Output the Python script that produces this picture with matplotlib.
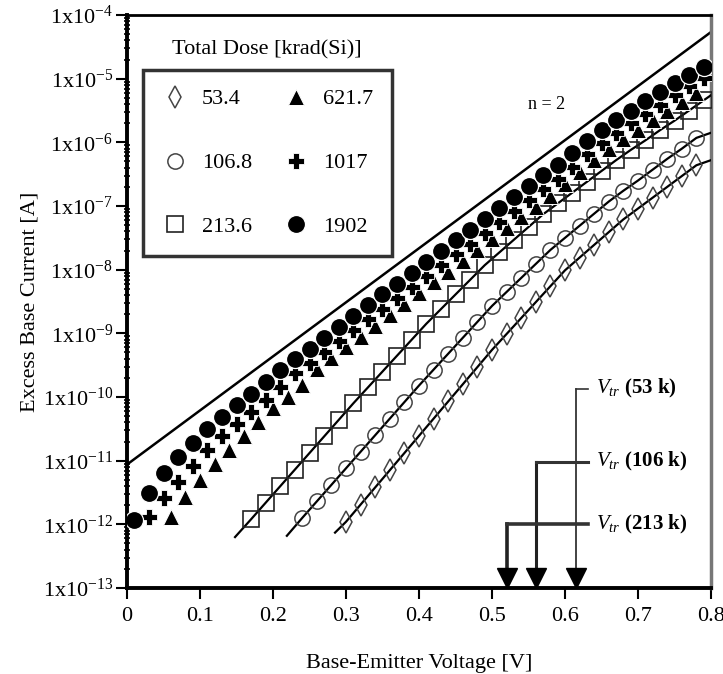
import numpy as np
import matplotlib
matplotlib.use("Agg")
import matplotlib.pyplot as plt
from matplotlib.ticker import FixedLocator, LogLocator, NullFormatter

plt.rcParams['font.family'] = ['Liberation Serif', 'DejaVu Serif']
plt.rcParams['mathtext.fontset'] = 'custom'
plt.rcParams['mathtext.rm'] = 'Liberation Serif'
plt.rcParams['mathtext.it'] = 'Liberation Serif:italic'

# ---------------- data (log10 of excess base current [A]) ----------------
doses = ["53.4", "106.8", "213.6", "621.7", "1017", "1902"]

x_1902 = [0.01, 0.03, 0.05, 0.07, 0.09, 0.11, 0.13, 0.15, 0.17, 0.19,
          0.21, 0.23, 0.25, 0.27, 0.29, 0.31, 0.33, 0.35, 0.37, 0.39,
          0.41, 0.43, 0.45, 0.47, 0.49, 0.51, 0.53, 0.55, 0.57, 0.59,
          0.61, 0.63, 0.65, 0.67, 0.69, 0.71, 0.73, 0.75, 0.77, 0.79]
log_1902 = [-11.93, -11.51, -11.19, -10.95, -10.72, -10.51, -10.32, -10.13, -9.95, -9.77,
            -9.58, -9.41, -9.24, -9.07, -8.90, -8.73, -8.56, -8.39, -8.22, -8.05,
            -7.88, -7.71, -7.54, -7.37, -7.20, -7.03, -6.86, -6.69, -6.52, -6.35,
            -6.16, -5.98, -5.81, -5.65, -5.50, -5.35, -5.21, -5.07, -4.94, -4.82]

x_1017 = [0.03, 0.05, 0.07, 0.09, 0.11, 0.13, 0.15, 0.17, 0.19,
          0.21, 0.23, 0.25, 0.27, 0.29, 0.31, 0.33, 0.35, 0.37, 0.39,
          0.41, 0.43, 0.45, 0.47, 0.49, 0.51, 0.53, 0.55, 0.57, 0.59,
          0.61, 0.63, 0.65, 0.67, 0.69, 0.71, 0.73, 0.75, 0.77, 0.79]
log_1017 = [-11.88, -11.58, -11.33, -11.08, -10.84, -10.62, -10.42, -10.23, -10.04,
            -9.84, -9.63, -9.46, -9.29, -9.12, -8.95, -8.78, -8.61, -8.44, -8.27,
            -8.10, -7.93, -7.76, -7.59, -7.42, -7.25, -7.08, -6.91, -6.74, -6.57,
            -6.38, -6.18, -6.01, -5.85, -5.70, -5.55, -5.41, -5.26, -5.12, -4.99]

x_621 = [0.06, 0.08, 0.10, 0.12, 0.14, 0.16, 0.18, 0.20, 0.22, 0.24,
         0.26, 0.28, 0.30, 0.32, 0.34, 0.36, 0.38, 0.40, 0.42, 0.44,
         0.46, 0.48, 0.50, 0.52, 0.54, 0.56, 0.58, 0.60, 0.62, 0.64,
         0.66, 0.68, 0.70, 0.72, 0.74, 0.76, 0.78]
log_621 = [-11.88, -11.57, -11.30, -11.06, -10.83, -10.62, -10.39, -10.17, -10.00, -9.81,
           -9.56, -9.39, -9.22, -9.05, -8.88, -8.71, -8.54, -8.37, -8.20, -8.03,
           -7.86, -7.69, -7.52, -7.35, -7.18, -7.01, -6.84, -6.66, -6.47, -6.28,
           -6.11, -5.95, -5.80, -5.65, -5.51, -5.36, -5.22]

x_213 = [0.17, 0.19, 0.21, 0.23, 0.25, 0.27, 0.29, 0.31, 0.33, 0.35,
         0.37, 0.39, 0.41, 0.43, 0.45, 0.47, 0.49, 0.51, 0.53, 0.55,
         0.57, 0.59, 0.61, 0.63, 0.65, 0.67, 0.69, 0.71, 0.73, 0.75,
         0.77, 0.79]
log_213 = [-11.92, -11.66, -11.40, -11.14, -10.88, -10.62, -10.36, -10.10, -9.85, -9.60,
           -9.35, -9.10, -8.85, -8.62, -8.39, -8.16, -7.93, -7.73, -7.53, -7.33,
           -7.13, -6.96, -6.79, -6.62, -6.45, -6.28, -6.12, -5.97, -5.81, -5.66,
           -5.50, -5.34]

x_106 = [0.24, 0.26, 0.28, 0.30, 0.32, 0.34, 0.36, 0.38, 0.40, 0.42,
         0.44, 0.46, 0.48, 0.50, 0.52, 0.54, 0.56, 0.58, 0.60, 0.62,
         0.64, 0.66, 0.68, 0.70, 0.72, 0.74, 0.76, 0.78]
log_106 = [-11.90, -11.64, -11.38, -11.12, -10.86, -10.60, -10.34, -10.08, -9.82, -9.57,
           -9.32, -9.07, -8.82, -8.57, -8.35, -8.13, -7.91, -7.69, -7.50, -7.31,
           -7.12, -6.93, -6.76, -6.60, -6.43, -6.26, -6.10, -5.93]

x_53 = [0.30, 0.32, 0.34, 0.36, 0.38, 0.40, 0.42, 0.44, 0.46, 0.48,
        0.50, 0.52, 0.54, 0.56, 0.58, 0.60, 0.62, 0.64, 0.66, 0.68,
        0.70, 0.72, 0.74, 0.76, 0.78]
log_53 = [-11.96, -11.69, -11.42, -11.15, -10.88, -10.61, -10.34, -10.07, -9.80, -9.53,
          -9.26, -9.01, -8.76, -8.51, -8.26, -8.01, -7.81, -7.61, -7.41, -7.21,
          -7.04, -6.87, -6.70, -6.53, -6.36]

# fitted-line end points (start, end) for the open-symbol series
fit_213_x = [0.148, 0.80]; fit_213_log = [-12.20, -5.26]
fit_106_x = [0.219, 0.80]; fit_106_log = [-12.18, -5.85]
fit_53_x = [0.285, 0.80];  fit_53_log = [-12.13, -6.28]

# n = 2 ideal line
n2_x = [0.0, 0.8]
n2_I = [8.7e-12, 5.4e-5]

# transition voltages
vtr_v = [0.615, 0.56, 0.52]
vtr_lbl = ["53 k", "106 k", "213 k"]
vtr_top_log = [-9.87, -11.02, -12.00]
vtr_lw = [1.2, 2.2, 2.6]

xticks = [0, 0.1, 0.2, 0.3, 0.4, 0.5, 0.6, 0.7, 0.8]
xtick_labels = ["0", "0.1", "0.2", "0.3", "0.4", "0.5", "0.6", "0.7", "0.8"]
yexp = [-13, -12, -11, -10, -9, -8, -7, -6, -5, -4]

# ---------------- figure ----------------
fig = plt.figure(figsize=(7.23, 6.74), dpi=100)
ax = fig.add_axes([127/723, (674-588)/674, (711-127)/723, (588-15)/674])
ax.set_yscale('log')
ax.set_xlim(0, 0.8)
ax.set_ylim(1e-13, 1e-4)

p10 = lambda a: 10.0 ** np.asarray(a)

# n = 2 line
ax.plot(n2_x, n2_I, color='black', lw=1.8, zorder=2)

# fitted lines through open symbols
for fx, fl, mx, ml in [(fit_213_x, fit_213_log, x_213, log_213),
                       (fit_106_x, fit_106_log, x_106, log_106),
                       (fit_53_x, fit_53_log, x_53, log_53)]:
    xs = [fx[0]] + list(mx) + [fx[1]]
    ys = [fl[0]] + list(ml) + [fl[1]]
    ax.plot(xs, p10(ys), color='black', lw=1.6, zorder=3)

ecol = '#444444'
h53, = ax.plot(x_53, p10(log_53), ls='none', marker='d', ms=11, mfc='none',
               mec=ecol, mew=1.1, zorder=4, label=doses[0])
h106, = ax.plot(x_106, p10(log_106), ls='none', marker='o', ms=11, mfc='none',
                mec=ecol, mew=1.1, zorder=4, label=doses[1])
h213, = ax.plot(x_213, p10(log_213), ls='none', marker='s', ms=11, mfc='none',
                mec='#222222', mew=1.2, zorder=4, label=doses[2])
h621, = ax.plot(x_621, p10(log_621), ls='none', marker='^', ms=12, mfc='black',
                mec='white', mew=0.7, zorder=5, label=doses[3])
h1017, = ax.plot(x_1017, p10(log_1017), ls='none', marker='P', ms=11.5, mfc='black',
                 mec='white', mew=0.6, zorder=6, label=doses[4])
h1902, = ax.plot(x_1902, p10(log_1902), ls='none', marker='o', ms=13, mfc='black',
                 mec='white', mew=0.9, zorder=7, label=doses[5])

# V_tr brackets and arrows
x_br = 0.632
for v, lab, tl, lw in zip(vtr_v, vtr_lbl, vtr_top_log, vtr_lw):
    ytop = 10 ** tl
    ax.plot([v, v], [ytop, 1.6e-13], color='#222222', lw=lw, zorder=3)
    ax.plot([v, x_br], [ytop, ytop], color='#333333', lw=lw, zorder=3)
    ax.plot([v], [1.45e-13], marker='v', ms=14, color='black', ls='none',
            clip_on=False, zorder=8)
    ax.text(0.642, ytop, r'$V_{tr}$' + ' (' + lab + ')', fontsize=15,
            ha='left', va='center', fontweight='bold')

# n = 2 label
ax.text(0.575, 10**(-5.40), 'n = 2', fontsize=13, ha='center', va='center')

# ticks
ax.xaxis.set_major_locator(FixedLocator(xticks))
ax.set_xticklabels(xtick_labels)
ax.set_yticks([10.0 ** e for e in yexp])
ax.set_yticklabels([r'1x10$^{%d}$' % e for e in yexp])
ax.yaxis.set_minor_locator(LogLocator(base=10, subs=np.arange(2, 10)))
ax.yaxis.set_minor_formatter(NullFormatter())
ax.tick_params(axis='both', which='major', labelsize=16, direction='out',
               length=8, width=1.5, pad=2)
ax.tick_params(axis='y', which='minor', direction='inout', length=5, width=1.2)
ax.tick_params(axis='x', pad=6)

for s in ['left', 'bottom', 'top']:
    ax.spines[s].set_linewidth(2.8)
    ax.spines[s].set_color('black')
ax.spines['top'].set_linewidth(2.0)
ax.spines['right'].set_linewidth(2.5)
ax.spines['right'].set_color('#777777')

ax.set_xlabel('Base-Emitter Voltage [V]', fontsize=16, labelpad=20)
ax.set_ylabel('Excess Base Current [A]', fontsize=16, labelpad=2)

# legend
leg = ax.legend(handles=[h53, h106, h213, h621, h1017, h1902], ncol=2,
                loc='upper left', bbox_to_anchor=(0.027, 0.904), fontsize=16,
                frameon=True, fancybox=False, edgecolor='black',
                labelspacing=1.95, columnspacing=1.4, handletextpad=0.6,
                handlelength=1.2, borderpad=0.85, borderaxespad=0)
leg.get_frame().set_linewidth(2.5)
leg.set_zorder(10)
ax.text(0.24, 0.939, 'Total Dose [krad(Si)]', transform=ax.transAxes,
        fontsize=16, ha='center', va='center')

fig.savefig('out.png', dpi=100)
